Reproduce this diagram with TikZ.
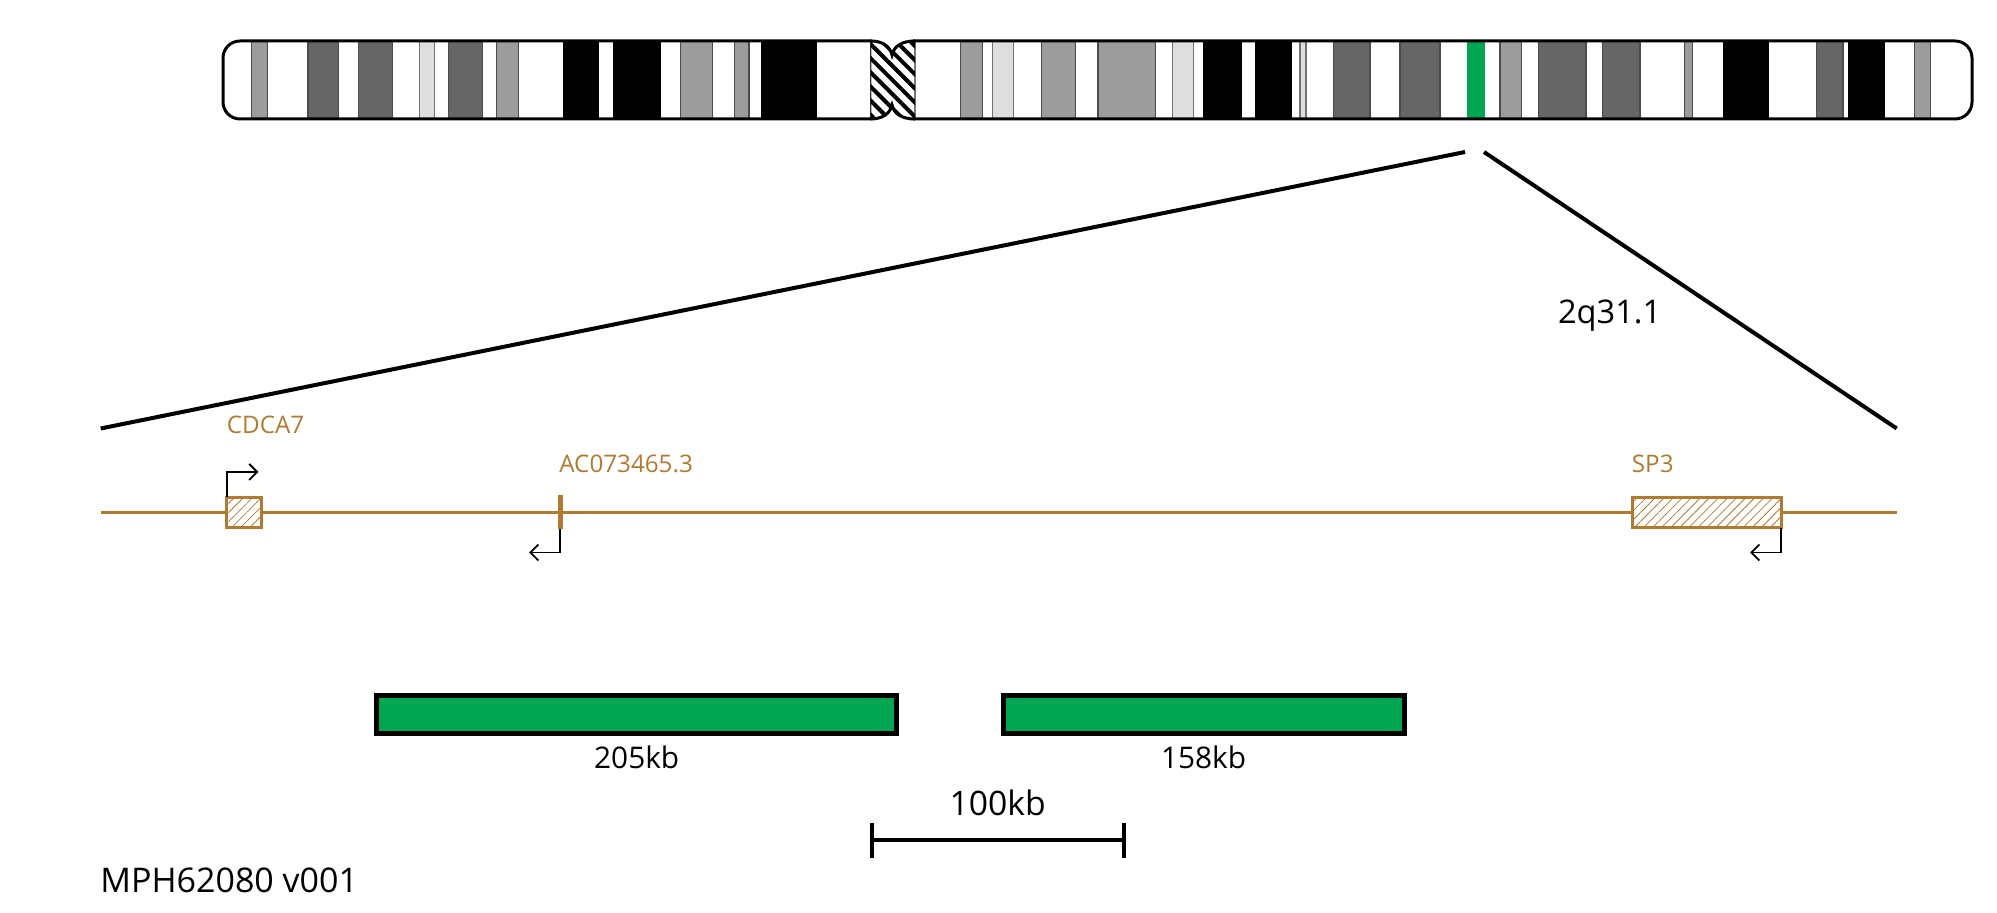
\documentclass[tikz,border=0pt]{standalone}
\usepackage{fontspec}
\setmainfont{Open Sans}
\usetikzlibrary{arrows.meta,patterns.meta}
\definecolor{geneColor}{HTML}{B07A30}
\definecolor{barGreen}{HTML}{00A651}
\tikzset{
  bandGray/.style={draw=black!70,line width=0.6pt,fill=black!39},
  bandDark/.style={draw=black!70,line width=0.6pt,fill=black!60},
  bandLight/.style={draw=black!55,line width=0.6pt,fill=black!13},
  bandBlack/.style={fill=black},
  geneBox/.style={draw=geneColor,line width=1.6pt,minimum height=15.15pt,inner sep=0pt,outer sep=0pt,
    preaction={fill=white},pattern={Lines[angle=45,distance=3.2pt,line width=0.4pt]},pattern color=geneColor},
  geneName/.style={text=geneColor,anchor=base west,inner sep=0pt,font=\fontsize{12.1}{14}\selectfont},
  tssArrow/.style={draw=black,line width=0.9pt,-{Straight Barb[length=4pt,width=8pt]}},
  greenBar/.style={draw=black,fill=barGreen,line width=2.3pt,minimum height=19pt,inner sep=0pt,outer sep=0pt},
  sizeLabel/.style={anchor=base,inner sep=0pt,font=\fontsize{14.9}{17}\selectfont},
  bigLabel/.style={inner sep=0pt,font=\fontsize{16.85}{19}\selectfont}
}
\begin{document}
\begin{tikzpicture}[x=0.5pt,y=-0.5pt]
  \useasboundingbox (0,0) rectangle (1997,913);

  % p arm bands
  \path[bandGray] (251.7,41) rectangle (267.7,119);
  \path[bandDark] (308,41) rectangle (338.7,119);
  \path[bandDark] (358.7,41) rectangle (392.7,119);
  \path[bandLight] (419.3,41) rectangle (434.7,119);
  \path[bandDark] (448.7,41) rectangle (482.7,119);
  \path[bandGray] (496.7,41) rectangle (518.7,119);
  \path[bandBlack] (562.7,41) rectangle (599,119);
  \path[bandBlack] (612.7,41) rectangle (660.7,119);
  \path[bandGray] (680.7,41) rectangle (712.7,119);
  \path[bandGray] (734.3,41) rectangle (749,119);
  \path[bandBlack] (760.7,41) rectangle (817,119);

  % q arm bands
  \path[bandGray] (960.7,41) rectangle (982.7,119);
  \path[bandLight] (992.7,41) rectangle (1013.7,119);
  \path[bandGray] (1041.7,41) rectangle (1075.7,119);
  \path[bandGray] (1098,41) rectangle (1155.7,119);
  \path[bandLight] (1172.3,41) rectangle (1193.7,119);
  \path[bandBlack] (1203.3,41) rectangle (1242,119);
  \path[bandBlack] (1255.3,41) rectangle (1292,119);
  \path[bandLight] (1300,41) rectangle (1306,119);
  \path[bandDark] (1333.7,41) rectangle (1370,119);
  \path[bandDark] (1400,41) rectangle (1440,119);
  \path[fill=barGreen] (1467,41) rectangle (1485,119);
  \path[bandGray] (1500,41) rectangle (1521.7,119);
  \path[bandDark] (1538.3,41) rectangle (1586,119);
  \path[bandDark] (1602.3,41) rectangle (1640,119);
  \path[bandGray] (1684.7,41) rectangle (1692.7,119);
  \path[bandBlack] (1722.7,41) rectangle (1769,119);
  \path[bandDark] (1816.7,41) rectangle (1843,119);
  \path[bandBlack] (1848.3,41) rectangle (1885.3,119);
  \path[bandGray] (1914.7,41) rectangle (1930.7,119);

  % centromere
  \draw[draw=black!80,line width=0.6pt,fill=white,postaction={pattern={Lines[angle=-45,distance=5pt,line width=2pt]},pattern color=black}]
    (870.7,41) .. controls (882,41) and (890,46) .. (892,55)
    .. controls (894,46) and (902,41) .. (915,41) -- (915,119)
    .. controls (902,119) and (894,114) .. (892,105)
    .. controls (890,114) and (882,119) .. (870.7,119) -- cycle;

  % outline
  \draw[line width=1.5pt,rounded corners=8.5pt]
    (872,41) -- (223,41) -- (223,119) -- (872,119);
  \draw[line width=1.5pt,rounded corners=8.5pt]
    (913,41) -- (1972,41) -- (1972,119) -- (913,119);
  \draw[line width=1.5pt]
    (870.7,41) .. controls (882,41) and (890,46) .. (892,55)
    .. controls (894,46) and (902,41) .. (915,41)
    (870.7,119) .. controls (882,119) and (890,114) .. (892,105)
    .. controls (894,114) and (902,119) .. (915,119);

  % zoom lines
  \coordinate (ZoomLeftTop) at (1465,152);
  \coordinate (ZoomLeftEnd) at (100.7,428.5);
  \coordinate (ZoomRightTop) at (1484,152);
  \coordinate (ZoomRightEnd) at (1896.7,428.5);
  \draw[line width=2pt] (ZoomLeftTop) -- (ZoomLeftEnd);
  \draw[line width=2pt] (ZoomRightTop) -- (ZoomRightEnd);
  \node[bigLabel,anchor=base west,font=\fontsize{16.3}{19}\selectfont] (Band) at (1557.6,323.5) {2q31.1};

  % gene track
  \coordinate (TrackLeft) at (100.7,512.6);
  \coordinate (TrackRight) at (1896.7,512.6);
  \draw[geneColor,line width=1.1pt] (TrackLeft) -- (TrackRight);
  \node[geneBox,minimum width=17.5pt] (CDCA) at (244.2,512.4) {};
  \node[geneBox,minimum width=74.5pt] (SPthree) at (1706.6,512.4) {};
  \node[fill=geneColor,minimum width=2.3pt,minimum height=17pt,inner sep=0pt,outer sep=0pt] (ACgene) at (560.3,512) {};
  \node[geneName] (CDCAName) at (226.5,433.2) {CDCA7};
  \node[geneName] (ACName) at (559,472.5) {AC073465.3};
  \node[geneName] (SPName) at (1631.5,472.5) {SP3};

  \coordinate (CDCAtip) at (258.5,472);
  \coordinate (ACtip) at (529,552.5);
  \coordinate (SPtip) at (1750,552.5);
  \draw[tssArrow] (CDCA.north west) |- (CDCAtip);
  \draw[tssArrow] (ACgene.south) |- (ACtip);
  \draw[tssArrow] (SPthree.south east) |- (SPtip);

  % green bars
  \node[greenBar,minimum width=260.25pt] (BarOne) at (636.5,714.7) {};
  \node[greenBar,minimum width=200.5pt] (BarTwo) at (1204,714.7) {};
  \node[sizeLabel] (BarOneSize) at (636.7,769) {205kb};
  \node[sizeLabel] (BarTwoSize) at (1203.5,769) {158kb};

  % scale bar
  \coordinate (ScaleLeft) at (871.6,840);
  \coordinate (ScaleRight) at (1124.2,840);
  \draw[line width=2pt] (ScaleLeft) -- (ScaleRight);
  \draw[line width=2pt] (ScaleLeft) ++(0,-17.5) -- ++(0,35);
  \draw[line width=2pt] (ScaleRight) ++(0,-17.5) -- ++(0,35);
  \node[bigLabel,anchor=base] (ScaleName) at (997.6,815) {100kb};

  \node[bigLabel,anchor=base west,font=\fontsize{17}{19}\selectfont] (Version) at (100,892.5) {MPH62080 v001};
\end{tikzpicture}
\end{document}
